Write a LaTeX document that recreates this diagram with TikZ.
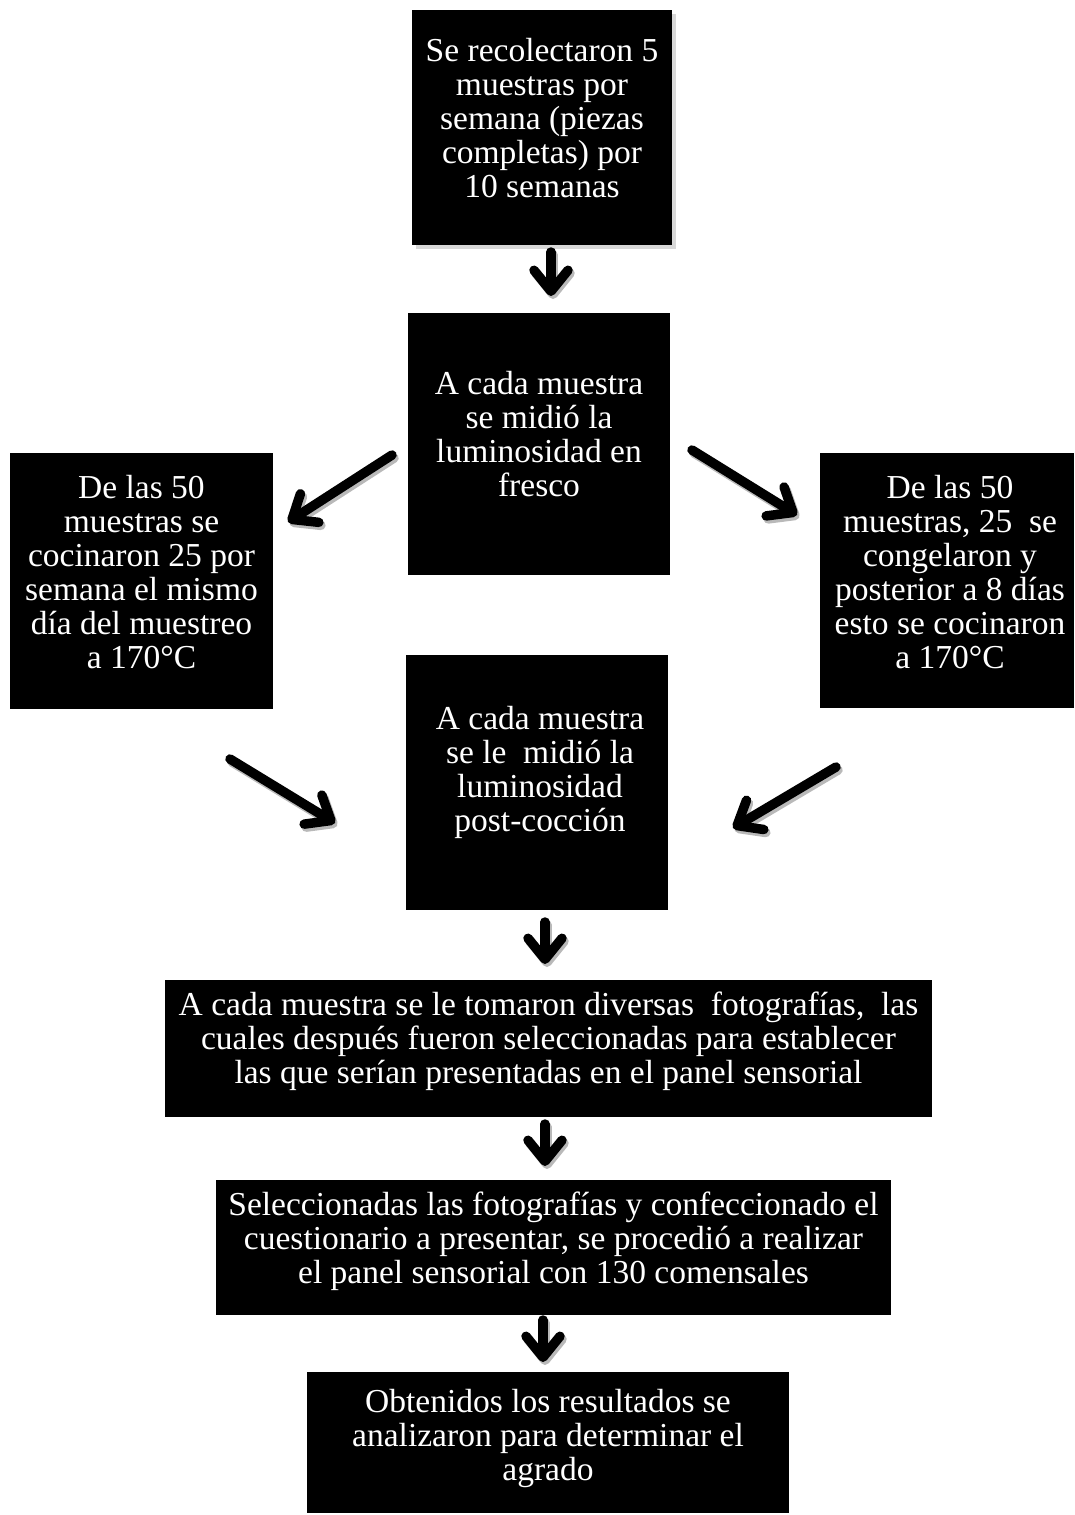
\documentclass[tikz,border=0pt]{standalone}
\usepackage{fontspec}
\setmainfont{Liberation Serif}
\usetikzlibrary{arrows.meta,shadows}
\begin{document}
\begin{tikzpicture}[x=1pt,y=-1pt,
  box/.style={fill=black,draw=none,inner sep=0pt,rectangle},
  txt/.style={text=white,align=center,inner sep=0pt,font=\fontsize{33.5}{34}\selectfont},
  arr/.style={line width=9.5pt,line cap=round,-{Straight Barb[length=21pt,width=34pt,round]}},
  arrsh/.style={arr,draw=gray!55}]
\useasboundingbox (0,0) rectangle (1074,1515);
% boxes
\node[box,minimum width=260,minimum height=235,drop shadow={shadow xshift=4pt,shadow yshift=-4pt,fill=gray!60}] (b1) at (542,127.5) {};
\node[txt] (t1) at (542,118) {Se recolectaron 5\\muestras por\\semana (piezas\\completas) por\\10 semanas};
\node[box,minimum width=262,minimum height=262] (b2) at (539,444) {};
\node[txt] (t2) at (539,434) {A cada muestra\\se midió la\\luminosidad en\\fresco};
\node[box,minimum width=263,minimum height=256] (b3) at (141.5,581) {};
\node[txt] (t3) at (141.5,572) {De las 50\\muestras se\\cocinaron 25 por\\semana el mismo\\día del muestreo\\a 170°C};
\node[box,minimum width=254,minimum height=255] (b4) at (947,580.5) {};
\node[txt] (t4) at (950,572) {De las 50\\muestras, 25\ \ se\\congelaron y\\posterior a 8 días\\esto se cocinaron\\a 170°C};
\node[box,minimum width=262,minimum height=255] (b5) at (537,782.5) {};
\node[txt] (t5) at (540,772) {A cada muestra\\se le\ \ midió la\\luminosidad\\post-cocción};
\node[box,minimum width=767,minimum height=137] (b6) at (548.5,1048.5) {};
\node[txt] (t6) at (548.5,1041) {A cada muestra se le tomaron diversas\ \ fotografías,\ \ las\\cuales después fueron seleccionadas para establecer\\las que serían presentadas en el panel sensorial};
\node[box,minimum width=675,minimum height=135] (b7) at (553.5,1247.5) {};
\node[txt] (t7) at (553.5,1241) {Seleccionadas las fotografías y confeccionado el\\cuestionario a presentar, se procedió a realizar\\el panel sensorial con 130 comensales};
\node[box,minimum width=482,minimum height=141] (b8) at (548,1442.5) {};
\node[txt] (t8) at (548,1438) {Obtenidos los resultados se\\analizaron para determinar el\\agrado};
% arrow coordinates
\coordinate (a1s) at (551,252); \coordinate (a1e) at (551,296);
\coordinate (a2s) at (392,455); \coordinate (a2e) at (288,522);
\coordinate (a3s) at (692,450); \coordinate (a3e) at (797,515);
\coordinate (a4s) at (230,759); \coordinate (a4e) at (335,823);
\coordinate (a5s) at (836,767); \coordinate (a5e) at (733,828);
\coordinate (a6s) at (545,922); \coordinate (a6e) at (545,964);
\coordinate (a7s) at (545,1124); \coordinate (a7e) at (545,1166);
\coordinate (a8s) at (543,1320); \coordinate (a8e) at (543,1362);
\foreach \i in {1,...,8}{
  \draw[arrsh] ([shift={(2,3)}]a\i s) -- ([shift={(2,3)}]a\i e);
}
\foreach \i in {1,...,8}{
  \draw[arr] (a\i s) -- (a\i e);
}
\end{tikzpicture}
\end{document}
